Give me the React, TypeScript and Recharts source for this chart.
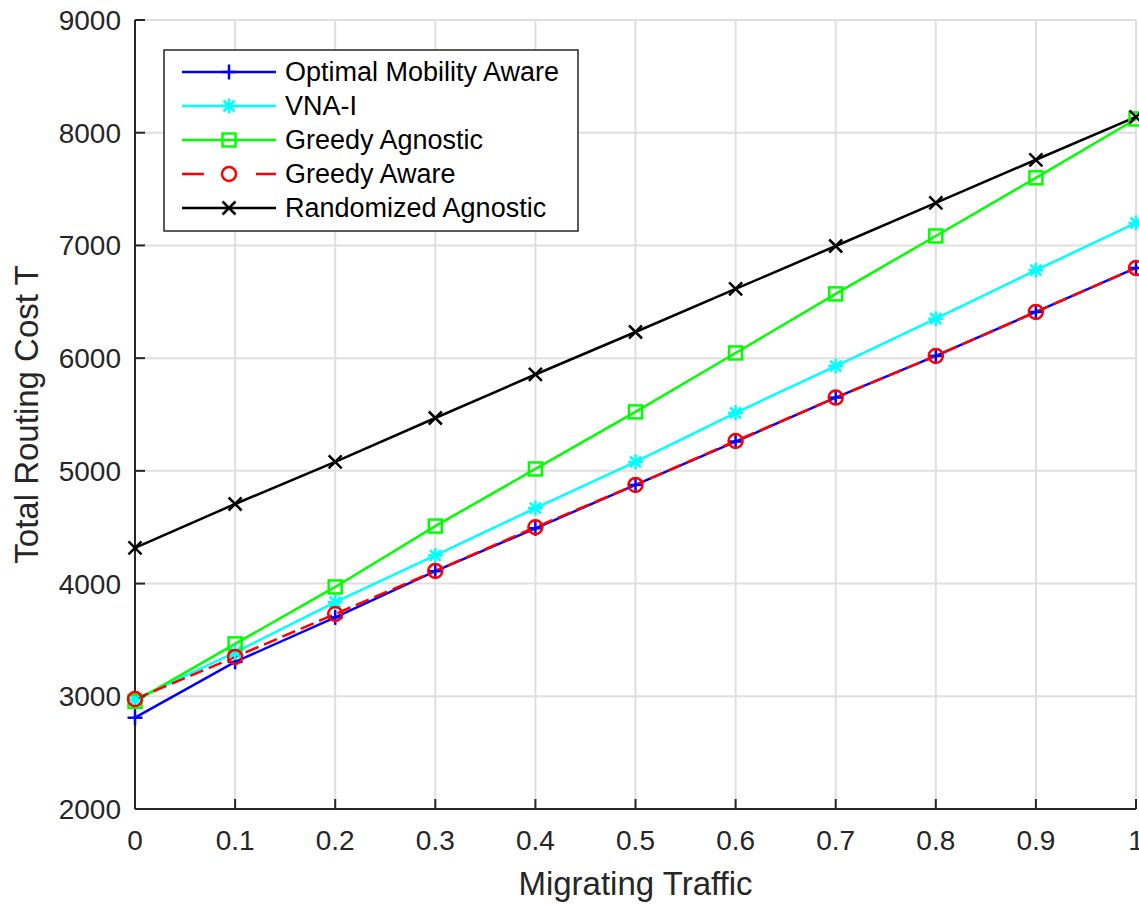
import { LineChart, Line, XAxis, YAxis, CartesianGrid, Legend, Label } from "recharts";

// migrating traffic share on the x axis
const traffic = [0, 0.1, 0.2, 0.3, 0.4, 0.5, 0.6, 0.7, 0.8, 0.9, 1];

// total routing cost per algorithm
const optimalAware = [2810, 3305, 3700, 4110, 4490, 4875, 5260, 5650, 6020, 6410, 6800];
const vnaI = [2970, 3390, 3835, 4250, 4670, 5080, 5515, 5930, 6350, 6780, 7200];
const greedyAgnostic = [2955, 3465, 3970, 4510, 5017, 5523, 6046, 6570, 7084, 7600, 8122];
const greedyAware = [2975, 3349, 3730, 4112, 4500, 4875, 5265, 5650, 6020, 6410, 6800];
const randomizedAgnostic = [4316, 4706, 5080, 5469, 5855, 6232, 6614, 6995, 7377, 7760, 8140];

const xTicks = [0, 0.1, 0.2, 0.3, 0.4, 0.5, 0.6, 0.7, 0.8, 0.9, 1];
const yTicks = [2000, 3000, 4000, 5000, 6000, 7000, 8000, 9000];

type Shape = "plus" | "star" | "square" | "circle" | "cross";

const series: { key: string; name: string; color: string; shape: Shape; dash?: string }[] = [
  { key: "optimal", name: "Optimal Mobility Aware", color: "#0000ff", shape: "plus" },
  { key: "vna", name: "VNA-I", color: "#00ffff", shape: "star" },
  { key: "greedyAgn", name: "Greedy Agnostic", color: "#00ff00", shape: "square" },
  { key: "greedyAw", name: "Greedy Aware", color: "#ff0000", shape: "circle", dash: "14 6" },
  { key: "random", name: "Randomized Agnostic", color: "#000000", shape: "cross" },
];

const data = traffic.map((t, i) => ({
  t,
  optimal: optimalAware[i],
  vna: vnaI[i],
  greedyAgn: greedyAgnostic[i],
  greedyAw: greedyAware[i],
  random: randomizedAgnostic[i],
}));

const AXIS = "#262626";
const FONT = "'Liberation Sans', Arial, sans-serif";

const Marker = ({ shape, cx, cy, color }: { shape: Shape; cx: number; cy: number; color: string }) => {
  const s = { stroke: color, strokeWidth: 2.5, fill: "none" };
  switch (shape) {
    case "plus":
      return (
        <g {...s}>
          <line x1={cx - 7.5} y1={cy} x2={cx + 7.5} y2={cy} />
          <line x1={cx} y1={cy - 7.5} x2={cx} y2={cy + 7.5} />
        </g>
      );
    case "star":
      return (
        <g {...s}>
          <line x1={cx - 7.5} y1={cy} x2={cx + 7.5} y2={cy} />
          <line x1={cx} y1={cy - 7.5} x2={cx} y2={cy + 7.5} />
          <line x1={cx - 5.5} y1={cy - 5.5} x2={cx + 5.5} y2={cy + 5.5} />
          <line x1={cx - 5.5} y1={cy + 5.5} x2={cx + 5.5} y2={cy - 5.5} />
        </g>
      );
    case "square":
      return <rect x={cx - 6.5} y={cy - 6.5} width={13} height={13} {...s} />;
    case "circle":
      return <circle cx={cx} cy={cy} r={7} {...s} />;
    default:
      return (
        <g {...s}>
          <line x1={cx - 6.5} y1={cy - 6.5} x2={cx + 6.5} y2={cy + 6.5} />
          <line x1={cx - 6.5} y1={cy + 6.5} x2={cx + 6.5} y2={cy - 6.5} />
        </g>
      );
  }
};

const LegendBox = () => (
  <svg width={416} height={183} style={{ display: "block" }}>
    <rect x={1} y={1} width={414} height={181} fill="#fff" stroke={AXIS} strokeWidth={1.5} />
    {series.map((s, i) => {
      const y = 23 + i * 34;
      return (
        <g key={s.key}>
          <line
            x1={19}
            y1={y}
            x2={113}
            y2={y}
            stroke={s.color}
            strokeWidth={2.5}
            strokeDasharray={s.dash ? "22 52" : undefined}
          />
          <Marker shape={s.shape} cx={66} cy={y} color={s.color} />
          <text x={122} y={y} dy="0.35em" fontSize={27} fill="#000" fontFamily={FONT}>
            {s.name}
          </text>
        </g>
      );
    })}
  </svg>
);

const App = () => {
  return (
    <div style={{ position: "absolute", left: 0, top: 0, background: "#fff" }}>
      <LineChart
        width={1139}
        height={904}
        data={data}
        margin={{ top: 20, right: 3, bottom: 0, left: 0 }}
        style={{ fontFamily: FONT }}
      >
        <CartesianGrid stroke="#dfdfdf" strokeWidth={2} />
        <XAxis
          dataKey="t"
          type="number"
          domain={[0, 1]}
          ticks={xTicks}
          tickFormatter={(v: number) => (v === 0 || v === 1 ? String(v) : v.toFixed(1))}
          height={95}
          interval={0}
          axisLine={{ stroke: AXIS, strokeWidth: 2 }}
          tickLine={{ stroke: AXIS, strokeWidth: 2 }}
          tickSize={-10}
          tickMargin={31}
          tick={{ fill: AXIS, fontSize: 28 }}
        >
          <Label value="Migrating Traffic" position="insideBottom" offset={9} fill={AXIS} fontSize={33} />
        </XAxis>
        <YAxis
          type="number"
          domain={[2000, 9000]}
          ticks={yTicks}
          width={135}
          interval={0}
          axisLine={{ stroke: AXIS, strokeWidth: 2 }}
          tickLine={{ stroke: AXIS, strokeWidth: 2 }}
          tickSize={-10}
          tickMargin={24}
          tick={{ fill: AXIS, fontSize: 28 }}
        >
          <Label
            value="Total Routing Cost T"
            angle={-90}
            position="insideLeft"
            offset={26}
            fill={AXIS}
            fontSize={33}
            style={{ textAnchor: "middle" }}
          />
        </YAxis>
        <Legend
          layout="vertical"
          align="center"
          verticalAlign="middle"
          content={() => <LegendBox />}
          wrapperStyle={{ position: "absolute", left: 163, top: 49, width: 416, height: 183 }}
        />
        {series.map((s) => (
          <Line
            key={s.key}
            dataKey={s.key}
            name={s.name}
            stroke={s.color}
            strokeWidth={2.5}
            strokeDasharray={s.dash}
            isAnimationActive={false}
            dot={(p: any) => <Marker key={`${s.key}-${p.index}`} shape={s.shape} cx={p.cx} cy={p.cy} color={s.color} />}
            activeDot={false}
          />
        ))}
      </LineChart>
    </div>
  );
};

export default App;
